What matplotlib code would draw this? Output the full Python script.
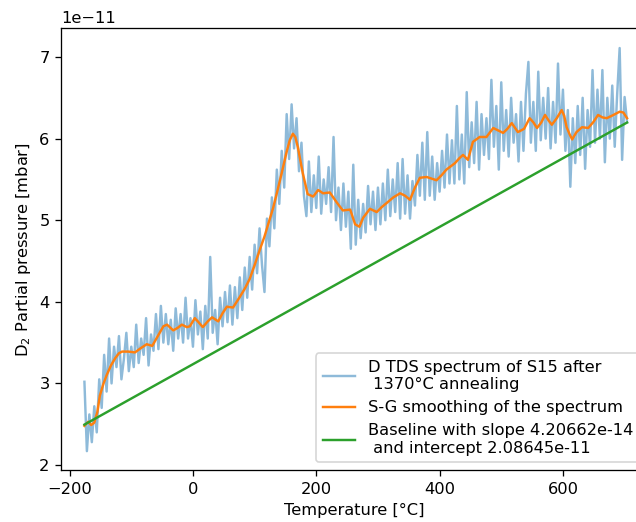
import matplotlib
matplotlib.use("Agg")
import matplotlib.pyplot as plt
import numpy as np

SCALE = 1e-11  # values below are in units of 1e-11 mbar

# Raw D TDS spectrum, sampled every 4 degC from -176 to 704 degC
temp_raw = np.arange(-176, 705, 4)
p_raw = [
    3.02, 2.17, 2.62, 2.28, 2.72, 2.40, 3.05, 2.70, 3.35, 2.90,
    3.55, 3.00, 3.45, 3.20, 3.58, 3.05, 3.30, 3.62, 3.15, 3.45,
    3.20, 3.72, 3.25, 3.55, 3.35, 3.80, 3.22, 3.60, 3.40, 3.85,
    3.42, 3.95, 3.50, 3.85, 3.48, 3.78, 3.40, 3.92, 3.55, 3.85,
    3.50, 4.05, 3.55, 3.80, 3.45, 4.02, 3.60, 3.88, 3.42, 3.95,
    3.55, 4.55, 3.62, 3.90, 3.48, 4.05, 3.70, 4.12, 3.75, 4.20,
    3.72, 4.18, 3.80, 4.30, 3.90, 4.42, 4.05, 4.55, 4.15, 4.70,
    4.35, 4.90, 4.45, 4.12, 5.02, 4.68, 5.28, 4.90, 5.62, 5.20,
    5.85, 5.40, 6.30, 5.75, 6.42, 5.88, 6.25, 5.60, 5.95, 5.30,
    5.05, 5.72, 5.10, 5.55, 5.15, 5.78, 5.08, 5.50, 5.20, 5.65,
    5.10, 6.02, 5.00, 5.40, 4.88, 5.45, 4.92, 5.35, 4.65, 5.68,
    4.70, 5.25, 4.78, 5.20, 4.85, 5.42, 4.95, 5.35, 4.88, 5.40,
    4.95, 5.45, 5.00, 5.62, 5.05, 5.50, 5.10, 5.70, 5.02, 5.75,
    5.08, 5.55, 5.02, 5.48, 5.18, 5.80, 5.30, 5.95, 5.25, 6.08,
    5.30, 5.78, 5.25, 5.70, 5.35, 5.85, 5.40, 6.05, 5.45, 5.98,
    5.45, 6.40, 5.50, 6.05, 5.45, 6.57, 5.65, 6.20, 5.70, 6.45,
    5.62, 6.30, 5.80, 6.25, 5.75, 6.72, 5.90, 6.40, 5.62, 6.69,
    5.85, 6.35, 5.78, 6.50, 5.95, 6.30, 5.72, 6.45, 5.85, 6.55,
    6.94, 5.95, 6.45, 5.85, 6.82, 5.98, 6.50, 6.00, 6.62, 5.88,
    6.45, 5.95, 6.92, 6.05, 6.60, 5.85, 6.35, 5.41, 6.25, 5.70,
    6.40, 5.80, 6.50, 5.63, 6.35, 5.90, 6.84, 5.95, 6.60, 6.00,
    6.84, 5.71, 6.50, 6.00, 6.65, 5.90, 6.55, 7.11, 5.74, 6.51,
    6.20,
]

# Savitzky-Golay smoothed curve
temp_sg = [
    -176, -170, -165, -160, -155, -151, -145, -140, -133, -126,
    -120, -115, -105, -94, -85, -75, -66, -57, -48, -42,
    -32, -25, -18, -10, -5, 3, 9, 16, 24, 31,
    41, 48, 55, 65, 76, 84, 92, 100, 109, 116,
    122, 130, 136, 144, 152, 157, 162, 166, 170, 178,
    186, 195, 203, 211, 222, 233, 243, 255, 263, 270,
    276, 287, 298, 306, 314, 325, 336, 344, 352, 360,
    368, 379, 395, 403, 411, 418, 425, 432, 438, 446,
    454, 465, 476, 487, 495, 503, 510, 517, 527, 537,
    546, 552, 558, 565, 571, 577, 582, 590, 598, 602,
    606, 611, 615, 622, 631, 641, 649, 657, 664, 671,
    682, 692, 698, 704,
]
p_sg = [
    2.48, 2.53, 2.49, 2.52, 2.65, 2.85, 3.00, 3.10, 3.22, 3.31,
    3.37, 3.39, 3.39, 3.38, 3.43, 3.48, 3.46, 3.58, 3.70, 3.72,
    3.65, 3.68, 3.72, 3.69, 3.70, 3.80, 3.75, 3.69, 3.76, 3.81,
    3.76, 3.86, 3.94, 3.93, 4.06, 4.16, 4.28, 4.45, 4.65, 4.80,
    4.95, 5.15, 5.33, 5.58, 5.84, 5.98, 6.06, 6.02, 5.90, 5.58,
    5.32, 5.29, 5.37, 5.33, 5.34, 5.22, 5.12, 5.13, 4.95, 4.92,
    5.03, 5.14, 5.10, 5.16, 5.21, 5.28, 5.33, 5.30, 5.25, 5.40,
    5.52, 5.53, 5.49, 5.55, 5.62, 5.66, 5.70, 5.76, 5.80, 5.74,
    5.96, 6.02, 6.02, 6.13, 6.10, 6.07, 6.12, 6.19, 6.08, 6.12,
    6.25, 6.20, 6.13, 6.20, 6.29, 6.22, 6.17, 6.25, 6.35, 6.28,
    6.14, 6.05, 5.99, 6.08, 6.14, 6.13, 6.20, 6.29, 6.26, 6.25,
    6.29, 6.33, 6.32, 6.25,
]

# Linear baseline end points
temp_base = [-176, 704]
p_base = [2.495, 6.197]

raw_label = "D TDS spectrum of S15 after\n 1370°C annealing"
sg_label = "S-G smoothing of the spectrum"
base_label = "Baseline with slope 4.20662e-14\n and intercept 2.08645e-11"

fig = plt.figure(figsize=(636 / 117, 522 / 117), dpi=117)
ax = fig.add_axes([0.0959, 0.0987, 0.923, 0.8471])

ax.plot(temp_raw, np.array(p_raw) * SCALE, color="C0", alpha=0.5, label=raw_label)
ax.plot(temp_sg, np.array(p_sg) * SCALE, color="C1", label=sg_label)
ax.plot(temp_base, np.array(p_base) * SCALE, color="C2", label=base_label)

ax.set_xlim(-214, 738)
ax.set_ylim(1.933e-11, 7.352e-11)
ax.set_xlabel("Temperature [°C]")
ax.set_ylabel("D$_2$ Partial pressure [mbar]")
ax.legend(loc="lower right")

fig.savefig("out.png", dpi=117)
